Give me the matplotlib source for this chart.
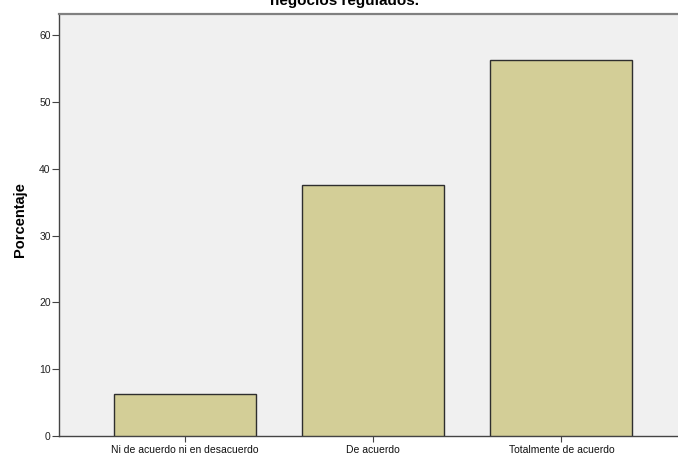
import matplotlib
matplotlib.use('Agg')
import matplotlib.pyplot as plt


categorias = ['Ni de acuerdo ni en desacuerdo', 'De acuerdo', 'Totalmente de acuerdo']
porcentajes = [6.25, 37.5, 56.25]
y_ticks = [0, 10, 20, 30, 40, 50, 60]

titulo = 'negocios regulados.'
y_titulo = 'Porcentaje'


def main():
    plt.rcParams['font.family'] = ['Liberation Sans', 'DejaVu Sans']

    fig = plt.figure(figsize=(6.78, 4.59), dpi=100)
    fig.patch.set_facecolor('white')
    ax = fig.add_axes([59 / 678, 1 - 436 / 459, 1 - 59 / 678, (436 - 14) / 459])
    ax.set_facecolor('#f0f0f0')

    pos = range(len(categorias))
    ax.bar(pos, porcentajes, width=0.755, color='#d3ce97',
           edgecolor='#2e2e2e', linewidth=1.0, zorder=3)

    ax.set_xlim(-0.67, 2.62)
    ax.set_ylim(0, 63.15)
    ax.set_xticks(list(pos))
    ax.set_xticklabels(categorias, fontsize=7.5, color='#111111')
    ax.set_yticks(y_ticks)
    ax.set_yticklabels([str(v) for v in y_ticks], fontsize=7.5, color='#222222')
    ax.tick_params(axis='y', length=5, width=0.8, color='#444444', pad=1)
    ax.tick_params(axis='x', length=4.5, width=0.8, color='#444444', pad=2)

    ax.spines['right'].set_visible(False)
    ax.spines['top'].set_color('#808080')
    ax.spines['top'].set_linewidth(1.6)
    ax.spines['left'].set_color('#444444')
    ax.spines['bottom'].set_color('#444444')
    ax.spines['left'].set_linewidth(1.0)
    ax.spines['bottom'].set_linewidth(1.0)

    # etiqueta del eje y, un poco mas cerca del eje
    ax.set_ylabel(y_titulo, fontsize=10.5, fontweight='bold')
    ax.yaxis.set_label_coords(-0.052, 0.512)

    # titulo cortado arriba como en la imagen original
    fig.text(345 / 678, 1 - 5 / 459, titulo, fontsize=11, fontweight='bold',
             ha='center', va='baseline')

    plt.savefig('out.png', dpi=100)


if __name__ == '__main__':
    main()
